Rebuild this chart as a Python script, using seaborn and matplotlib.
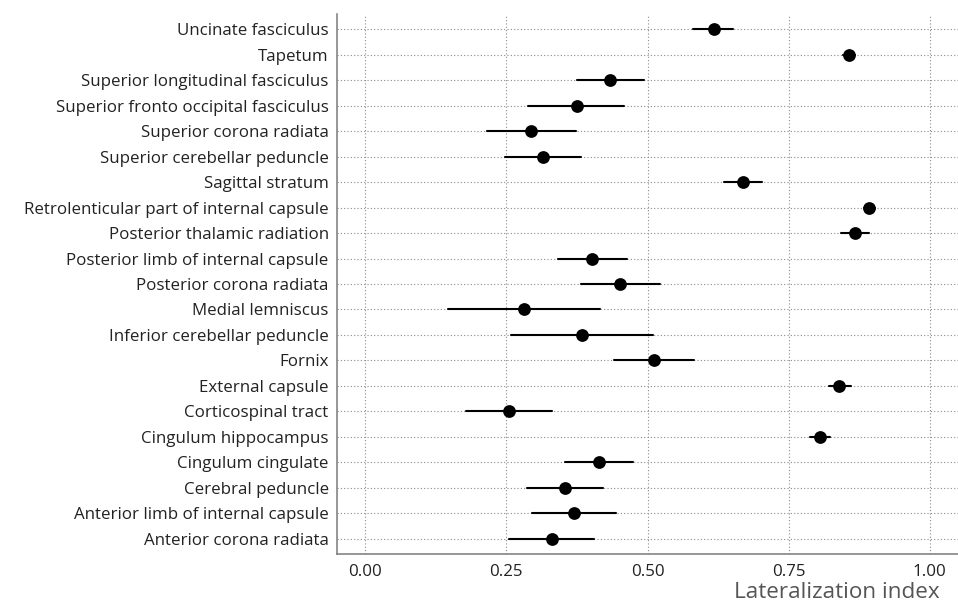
import numpy as np
import pandas as pd
import matplotlib
matplotlib.use("Agg")
import matplotlib.pyplot as plt
import seaborn as sns

# White-matter tracts, listed top to bottom
tracts = [
    "Uncinate fasciculus",
    "Tapetum",
    "Superior longitudinal fasciculus",
    "Superior fronto occipital fasciculus",
    "Superior corona radiata",
    "Superior cerebellar peduncle",
    "Sagittal stratum",
    "Retrolenticular part of internal capsule",
    "Posterior thalamic radiation",
    "Posterior limb of internal capsule",
    "Posterior corona radiata",
    "Medial lemniscus",
    "Inferior cerebellar peduncle",
    "Fornix",
    "External capsule",
    "Corticospinal tract",
    "Cingulum hippocampus",
    "Cingulum cingulate",
    "Cerebral peduncle",
    "Anterior limb of internal capsule",
    "Anterior corona radiata",
]

# Lateralization index estimates with lower / upper interval bounds
li_est = [0.617, 0.857, 0.434, 0.375, 0.294, 0.315, 0.669, 0.893, 0.867, 0.402, 0.452,
          0.281, 0.384, 0.512, 0.840, 0.254, 0.806, 0.414, 0.354, 0.370, 0.331]
li_low = [0.580, 0.847, 0.375, 0.289, 0.216, 0.247, 0.635, 0.884, 0.842, 0.342, 0.382,
          0.147, 0.259, 0.441, 0.821, 0.178, 0.788, 0.354, 0.287, 0.296, 0.255]
li_high = [0.651, 0.868, 0.493, 0.459, 0.373, 0.383, 0.703, 0.903, 0.892, 0.463, 0.523,
           0.416, 0.509, 0.583, 0.860, 0.330, 0.824, 0.474, 0.421, 0.445, 0.406]

x_ticks = [0.00, 0.25, 0.50, 0.75, 1.00]
x_tick_labels = ["0.00", "0.25", "0.50", "0.75", "1.00"]

# Long form: each tract contributes its bounds and estimate; the median is the
# estimate and the full percentile interval spans the bounds.
rows = []
for t, lo, est, hi in zip(tracts, li_low, li_est, li_high):
    for v in (lo, est, hi):
        rows.append({"tract": t, "li": v})
df = pd.DataFrame(rows)

sns.set_theme(style="white")
plt.rcParams["font.family"] = ["Open Sans", "DejaVu Sans"]

fig = plt.figure(figsize=(9.58, 6.04), dpi=100)
ax = fig.add_axes([337 / 958, 1 - 554 / 604, 1 - 337 / 958, (554 - 14) / 604])

sns.pointplot(
    data=df, x="li", y="tract", order=tracts,
    estimator="median", errorbar=("pi", 100),
    color="black", linestyle="none", markers="o", markersize=9.2,
    markeredgewidth=0,
    err_kws={"linewidth": 1.5, "color": "black"},
    ax=ax, zorder=3,
)

ax.set_xlim(-0.05, 1.05)
ax.set_ylim(len(tracts) - 0.4, -0.6)
ax.set_xticks(x_ticks)
ax.set_xticklabels(x_tick_labels)

ax.grid(True, which="major", axis="both", linestyle=(0, (1, 2)), color="#8a8a8a", linewidth=0.8)
ax.set_axisbelow(True)

for side in ("top", "right"):
    ax.spines[side].set_visible(False)
for side in ("left", "bottom"):
    ax.spines[side].set_visible(True)
    ax.spines[side].set_color("#7a7a7a")
    ax.spines[side].set_linewidth(1.1)

ax.tick_params(axis="y", length=0, labelsize=12.2, labelcolor="#222222", pad=6)
ax.tick_params(axis="x", length=0, labelsize=12.2, labelcolor="#222222", pad=7)
ax.set_ylabel("")
ax.set_xlabel("")
fig.text(940 / 958, 1 - 592 / 604, "Lateralization index", ha="right", va="center",
         fontsize=16.2, color="#555555")

fig.savefig("out.png", dpi=100)
